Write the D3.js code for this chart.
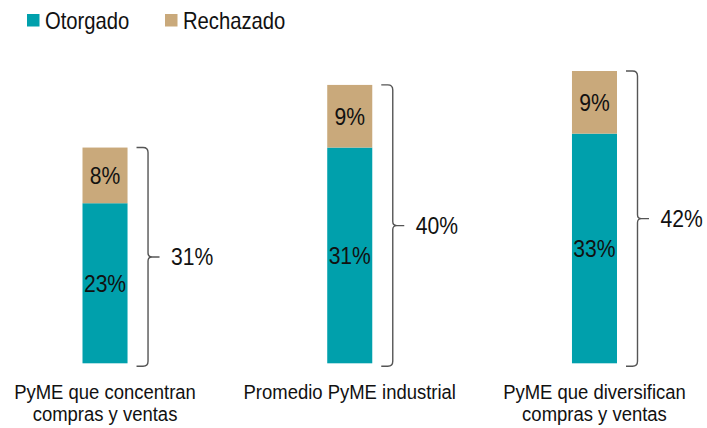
<!DOCTYPE html>
<html>
<head>
<meta charset="utf-8">
<script src="https://cdn.jsdelivr.net/npm/d3@7"></script>
<style>
html,body{margin:0;padding:0;background:#fff;}
svg{display:block;}
text{font-family:"Liberation Sans",Arial,sans-serif;fill:#111;}
</style>
</head>
<body>
<svg id="chart" width="707" height="428"></svg>
<script>
const categories = [
  ["PyME que concentran", "compras y ventas"],
  ["Promedio PyME industrial"],
  ["PyME que diversifican", "compras y ventas"]
];
const seriesNames = ["Otorgado", "Rechazado"];
const otorgado = [23, 31, 33];
const rechazado = [8, 9, 9];
const totals = [31, 40, 42];
const colors = ["#00A0AC", "#C9A97B"];

const svg = d3.select("#chart");
const SX = 0.88;

const keys = categories.map((c, i) => "c" + i);
const x = d3.scaleBand().domain(keys).range([82.5, 617]).paddingInner(0.816).paddingOuter(0);
const y = d3.scaleLinear().domain([0, 42]).range([363.3, 71]);

const data = keys.map((k, i) => ({key: k, Otorgado: otorgado[i], Rechazado: rechazado[i], total: totals[i]}));
const stack = d3.stack().keys(seriesNames)(data);

function sText(sel, tx, ty, str, size, anchor) {
  const g = sel.append("g").attr("transform", `translate(${tx},${ty}) scale(${SX},1)`);
  g.append("text").attr("text-anchor", anchor || "start").attr("dominant-baseline", "alphabetic")
    .style("font-size", size + "px").text(str);
  return g;
}

// bars
stack.forEach((s, si) => {
  const g = svg.append("g");
  g.selectAll("rect").data(s).join("rect")
    .attr("x", d => x(d.data.key))
    .attr("width", x.bandwidth())
    .attr("y", d => y(d[1]))
    .attr("height", d => y(d[0]) - y(d[1]))
    .attr("fill", colors[si]);
  s.forEach(d => {
    const cx = x(d.data.key) + x.bandwidth() / 2;
    const cy = (y(d[0]) + y(d[1])) / 2;
    sText(svg, cx, cy + 8.5, (d[1] - d[0]) + "%", 24, "middle");
  });
});

// brackets
data.forEach(d => {
  const right = x(d.key) + x.bandwidth();
  const x0 = right + 9, x1 = right + 20.5, x2 = right + 32;
  const top = y(d.total), bot = y(0) + 3, mid = (top + bot) / 2;
  const p = `M${x0},${top} H${x1 - 5} Q${x1},${top} ${x1},${top + 5} V${mid - 4} Q${x1},${mid} ${x1 + 4},${mid} H${x2}` +
            ` M${x1 + 4},${mid} Q${x1},${mid} ${x1},${mid + 4} V${bot - 5} Q${x1},${bot} ${x1 - 5},${bot} H${x0}`;
  svg.append("path").attr("d", p).attr("fill", "none").attr("stroke", "#555").attr("stroke-width", 1.4);
  sText(svg, right + 43.5, mid + 8.5, d.total + "%", 24, "start");
});

// category labels
categories.forEach((lines, i) => {
  const cx = x(keys[i]) + x.bandwidth() / 2;
  lines.forEach((ln, j) => {
    sText(svg, cx, 399 + j * 22, ln, 21, "middle");
  });
});

// legend
const legendX = [27, 165];
seriesNames.forEach((n, i) => {
  svg.append("rect").attr("x", legendX[i]).attr("y", 14).attr("width", 12.5).attr("height", 12.5).attr("fill", colors[i]);
  sText(svg, legendX[i] + 18, 28.5, n, 23, "start");
});
</script>
</body>
</html>
